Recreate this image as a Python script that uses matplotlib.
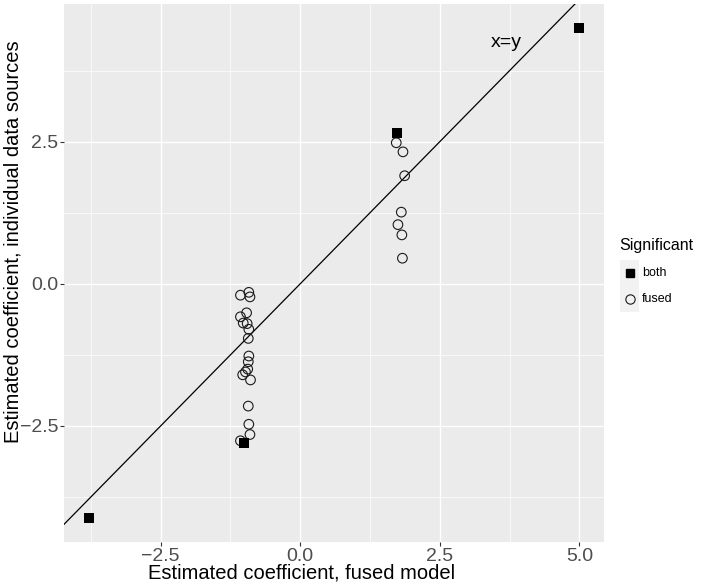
import matplotlib
matplotlib.use("Agg")
import matplotlib.pyplot as plt
from matplotlib.lines import Line2D
from matplotlib.patches import Rectangle

plt.rcParams['font.family'] = ['Liberation Sans', 'DejaVu Sans']

# estimated coefficients: fused model (x) vs individual data sources (y)
x_fused = [-3.79, 5.00, 1.74, -1.01,
           -1.07, -0.92, -0.90, -0.96, -1.07, -1.02, -0.95, -0.92, -0.93,
           -0.92, -0.93, -0.94, -0.98, -1.03, -0.89, -0.93, -0.92, -0.90, -1.07,
           1.72, 1.84, 1.87, 1.81, 1.75, 1.82, 1.83]
y_indiv = [-4.11, 4.49, 2.65, -2.80,
           -0.20, -0.15, -0.23, -0.51, -0.58, -0.69, -0.70, -0.80, -0.96,
           -1.27, -1.37, -1.50, -1.55, -1.60, -1.69, -2.15, -2.47, -2.65, -2.76,
           2.48, 2.32, 1.90, 1.26, 1.04, 0.86, 0.45]
significant = ["both"] * 4 + ["fused"] * 26

x_ticks = [-2.5, 0.0, 2.5, 5.0]
y_ticks = [-2.5, 0.0, 2.5]

W, H = 706, 588
fig = plt.figure(figsize=(W / 100, H / 100), dpi=100)
ax = fig.add_axes([64 / W, 1 - 542 / H, (604 - 64) / W, (542 - 4) / H])
ax.set_facecolor('#ebebeb')
for s in ax.spines.values():
    s.set_visible(False)

# ggplot-like 5% expansion
def expand(vals):
    lo, hi = min(vals), max(vals)
    pad = (hi - lo) * 0.05
    return lo - pad, hi + pad

ax.set_xticks(x_ticks)
ax.set_yticks(y_ticks)
ax.set_xticks([t + 1.25 for t in [-5.0] + x_ticks], minor=True)
ax.set_yticks([t + 1.25 for t in [-5.0] + y_ticks], minor=True)
# limits after ticks, so the minor ticks don't widen the view
ax.set_xlim(*expand(x_fused))
ax.set_ylim(*expand(y_indiv))

ax.grid(which='major', color='white', linewidth=1.0)
ax.grid(which='minor', color='white', linewidth=0.5)
ax.set_axisbelow(True)
ax.tick_params(which='major', length=3, width=0.8, color='#333333',
               labelsize=14, labelcolor='#4d4d4d', pad=1)
ax.tick_params(which='minor', length=0)

# x = y reference line
ax.axline((0, 0), slope=1, color='black', linewidth=0.9, zorder=2)
ax.text(3.69, 4.24, "x=y", fontsize=14, ha='center', va='center', zorder=3)

for xv, yv, sig in zip(x_fused, y_indiv, significant):
    if sig == "both":
        ax.scatter(xv, yv, marker='s', s=44, color='black', zorder=4, linewidths=0)
    else:
        ax.scatter(xv, yv, marker='o', s=48, facecolors='none',
                   edgecolors='#1a1a1a', linewidths=0.8, zorder=3)

# axis titles placed where the reference has them
fig.text(302 / W, 1 - 573 / H, "Estimated coefficient, fused model",
         fontsize=14.5, ha='center', va='center')
fig.text(13 / W, 1 - 242 / H, "Estimated coefficient, individual data sources",
         fontsize=14.5, ha='center', va='center', rotation=90)

# legend drawn by hand
fig.text(619 / W, 1 - 245 / H, "Significant", fontsize=11.5, ha='left', va='center')
fig.patches.append(Rectangle((620 / W, 1 - 312 / H), 19 / W, 52 / H,
                             transform=fig.transFigure, facecolor='#f2f2f2',
                             edgecolor='none'))
fig.lines.append(Line2D([629.5 / W], [1 - 272.5 / H], marker='s', markersize=6.3,
                        color='black', linestyle='none', transform=fig.transFigure))
fig.lines.append(Line2D([629.5 / W], [1 - 299 / H], marker='o', markersize=6.7,
                        markerfacecolor='none', markeredgecolor='#1a1a1a',
                        markeredgewidth=0.8, linestyle='none',
                        transform=fig.transFigure))
fig.text(642 / W, 1 - 272.5 / H, "both", fontsize=9, ha='left', va='center')
fig.text(642 / W, 1 - 299 / H, "fused", fontsize=9, ha='left', va='center')

fig.savefig("out.png", dpi=100)
